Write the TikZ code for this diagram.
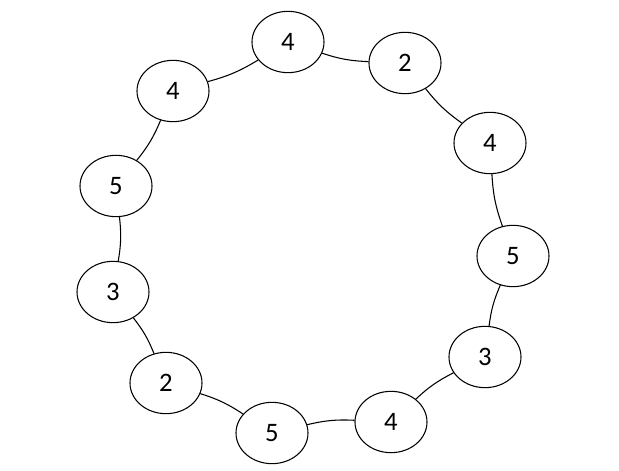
\documentclass[tikz,border=0pt]{standalone}
\usepackage{fontspec}
\setmainfont{Carlito}
\usetikzlibrary{shapes.geometric}
\begin{document}
\begin{tikzpicture}[x=0.75pt,y=-0.75pt]
    \tikzstyle{every node}=[shape=ellipse,draw,thick,fill=white,minimum width=54pt,minimum height=46pt,inner sep=0pt,font=\fontsize{20}{24}\selectfont];
    \tikzstyle{every path} = [thick];
    \useasboundingbox (0,0) rectangle (619,471);

    \draw (288,42) circle[radius=0pt];
    \node (n1) at (288,42) {4};
    \node (n2) at (405,63) {2};
    \node (n3) at (490,143) {4};
    \node (n4) at (513,256) {5};
    \node (n5) at (485,357) {3};
    \node (n6) at (391,422) {4};
    \node (n7) at (272,433) {5};
    \node (n8) at (166,383) {2};
    \node (n9) at (113,292) {3};
    \node (n10) at (116,186) {5};
    \node (n11) at (173,91) {4};

    \foreach \a/\b in {n1/n2,n2/n3,n3/n4,n4/n5,n5/n6,n6/n7,n7/n8,n8/n9,n9/n10,n10/n11,n11/n1}
        \draw (\a) to[bend right=8] (\b);
\end{tikzpicture}
\end{document}
